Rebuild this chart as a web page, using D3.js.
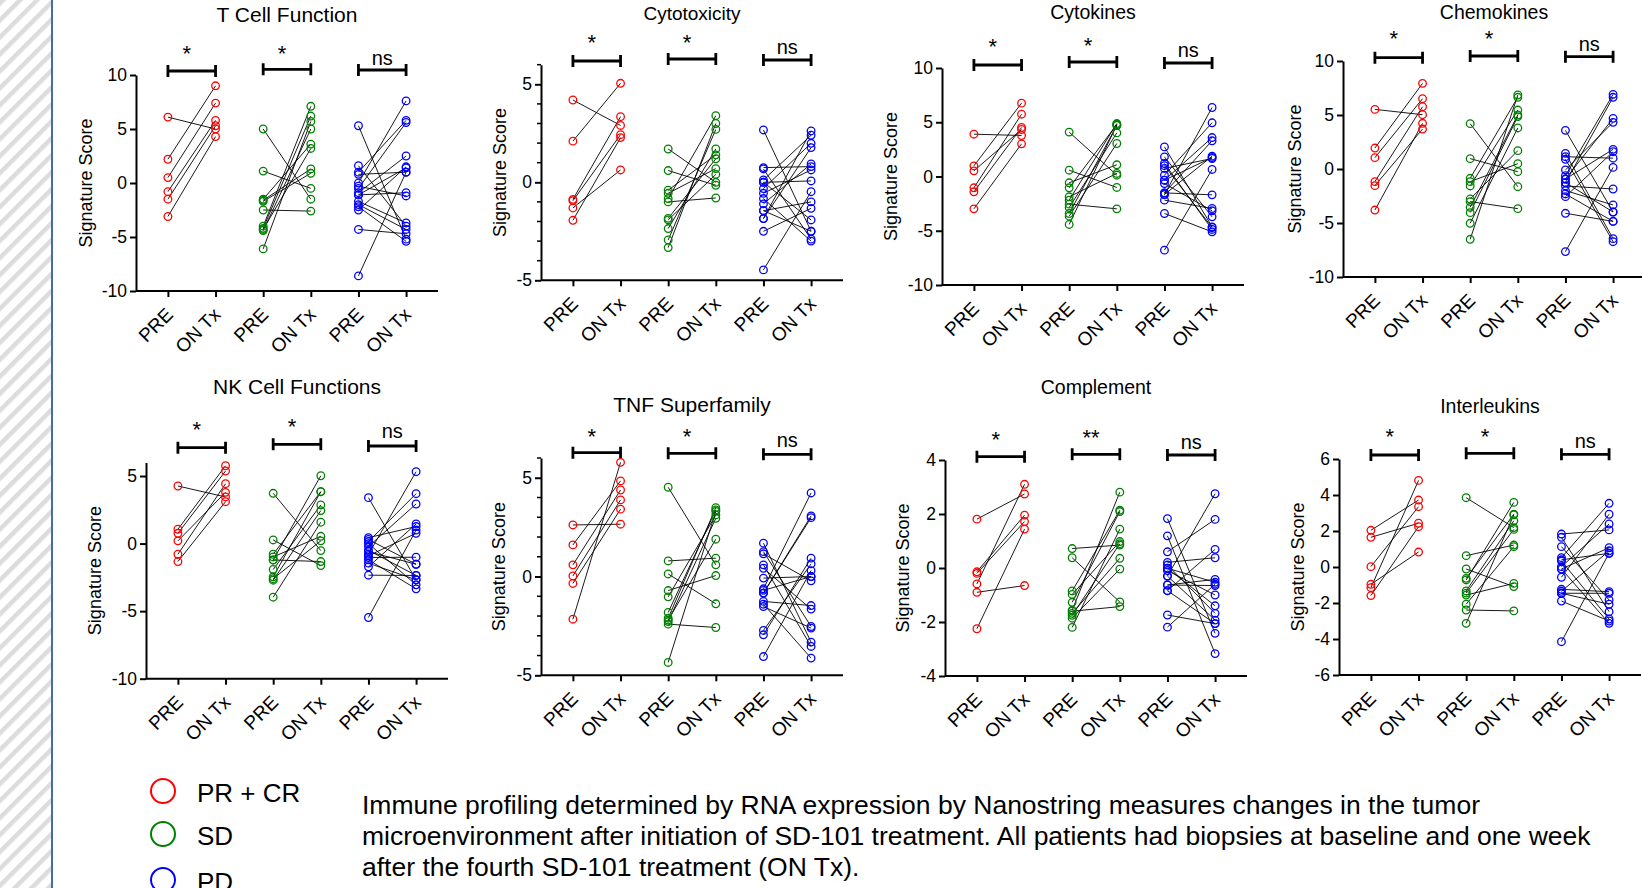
<!DOCTYPE html>
<html>
<head>
<meta charset="utf-8">
<script src="https://cdn.jsdelivr.net/npm/d3@7"></script>
<style>
  body { margin: 0; background: #fff; }
  svg { display: block; font-family: "Liberation Sans", Arial, sans-serif; }
</style>
</head>
<body>
<svg id="chart" width="1642" height="888"></svg>
<script>
// labels
const timepoints = ["PRE", "ON Tx"];
const groups = ["PR + CR", "SD", "PD"];
const groupColors = ["#ff0000", "#008000", "#0000ff"];
const panelTitles = ["T Cell Function", "Cytotoxicity", "Cytokines", "Chemokines",
    "NK Cell Functions", "TNF Superfamily", "Complement", "Interleukins"];
const sigLabels = [
    ["*", "*", "ns"], ["*", "*", "ns"], ["*", "*", "ns"], ["*", "*", "ns"],
    ["*", "*", "ns"], ["*", "*", "ns"], ["*", "**", "ns"], ["*", "*", "ns"]
];
const captionLines = [
    "Immune profiling determined by RNA expression by Nanostring measures changes in the tumor",
    "microenvironment after initiation of SD-101 treatment. All patients had biopsies at baseline and one week",
    "after the fourth SD-101 treatment (ON Tx)."
];

// signature scores, one pair per patient: [PRE, ON Tx]
const tCellPR = [[6.1, 5.0], [2.2, 9.0], [0.5, 7.4], [-0.8, 5.8], [-1.5, 5.3], [-3.1, 4.3]];
const tCellSD = [[5.0, -1.5], [1.1, -0.5], [-1.5, 3.6], [-1.6, 1.3], [-1.7, 0.9], [-2.5, -2.6],
    [-4.0, 7.1], [-4.2, 6.2], [-4.4, 5.0], [-4.3, 3.2], [-6.1, 5.7]];
const tCellPD = [[5.3, -5.2], [1.6, -4.0], [1.0, 5.8], [0.8, 1.0], [0.0, 7.6], [-0.3, -1.2],
    [-0.5, 5.6], [-0.9, 2.5], [-1.1, -0.9], [-1.1, 1.4], [-1.7, -3.7], [-2.0, -4.3],
    [-2.2, -5.4], [-2.5, 1.5], [-4.3, -4.7], [-8.6, 1.0]];

const cytotoxPR = [[4.2, 2.9], [2.1, 5.05], [-0.87, 3.35], [-0.94, 2.43], [-1.31, 0.63], [-1.94, 2.28]];
const cytotoxSD = [[1.7, 0.0], [0.6, -0.15], [-0.4, 1.4], [-0.56, 0.7], [-0.83, 3.4], [-1.0, -0.8],
    [-1.84, 1.2], [-1.92, 0.4], [-2.36, 1.7], [-2.94, 2.7], [-3.33, 3.0]];
const cytotoxPD = [[2.67, -2.5], [0.75, 0.8], [0.68, -2.9], [0.12, 2.4], [0.0, 0.07], [0.0, -1.92],
    [-0.32, 1.99], [-0.56, 0.63], [-0.83, -3.0], [-1.1, 0.94], [-1.45, -1.0], [-1.45, -2.5],
    [-1.85, 1.77], [-1.85, 2.62], [-2.5, -1.33], [-4.47, -0.48]];

const cytokinesPR = [[3.9, 3.78], [0.98, 6.76], [0.52, 4.33], [-1.04, 5.74], [-1.41, 4.52], [-2.98, 3.01]];
const cytokinesSD = [[4.09, 0.12], [0.58, -1.01], [-0.58, 1.08], [-1.04, 4.8], [-1.87, 0.28], [-2.18, 4.88],
    [-2.55, -2.98], [-2.86, 4.02], [-3.41, 4.7], [-3.66, 3.04], [-4.42, 4.75]];
const cytokinesPD = [[2.73, -4.64], [1.81, -3.72], [1.2, -4.88], [0.74, 1.66], [0.12, 4.95], [-0.34, 3.59],
    [-0.65, -3.16], [-1.51, -1.69], [-1.66, 6.36], [-1.66, 1.87], [-1.51, 3.29], [-2.18, -2.95],
    [-3.41, -5.1], [-6.79, 0.65], [-0.34, 1.75], [1.0, -4.7]];

const chemokinesPR = [[5.52, 5.03], [1.94, 7.93], [1.05, 6.51], [-1.17, 5.77], [-1.54, 3.7], [-3.8, 4.23]];
const chemokinesSD = [[4.2, -1.64], [0.96, -0.25], [-0.86, 6.64], [-1.17, 0.49], [-1.57, 5.46], [-2.78, 1.7],
    [-3.02, -3.67], [-3.55, 5.0], [-4.04, 4.85], [-5.03, 3.8], [-6.51, 6.85]];
const chemokinesPD = [[3.58, -3.98], [1.45, -6.45], [1.14, 1.0], [0.9, -6.73], [-0.09, 4.32], [-0.62, 6.91],
    [-0.93, 1.82], [-0.93, 4.69], [-1.27, 6.64], [-1.57, -1.85], [-2.0, -3.33], [-2.31, -4.85],
    [-2.56, 1.6], [-4.1, -4.85], [-7.65, 0.15], [-1.27, -3.98]];

const nkPR = [[4.26, 3.45], [1.06, 5.76], [0.76, 5.37], [0.2, 3.79], [-0.79, 4.43], [-1.33, 3.1]];
const nkSD = [[3.72, -0.52], [0.27, -1.63], [-0.79, 3.84], [-0.99, 0.54], [-1.21, -1.33], [-1.21, 5.02],
    [-1.92, 2.86], [-2.46, 3.84], [-2.71, 2.44], [-3.97, 1.58], [-2.6, 0.2]];
const nkPD = [[3.4, -2.68], [0.44, 1.26], [0.3, -1.53], [0.15, 3.69], [0.0, -3.05], [-0.22, 2.93],
    [-0.5, -2.36], [-0.79, 5.32], [-0.9, 0.76], [-1.03, -1.01], [-1.2, -3.35], [-1.45, -2.68],
    [-1.72, 1.45], [-2.34, -2.36], [-5.47, 1.0], [-0.6, -1.53]];

const tnfPR = [[2.61, 2.65], [1.6, 4.84], [0.59, 4.38], [0.03, 3.88], [-0.35, 3.41], [-2.16, 5.78]];
const tnfSD = [[4.52, 0.59], [0.79, 0.93], [0.13, -1.38], [-0.71, 0.05], [-1.03, 3.12], [-1.82, 3.37],
    [-2.11, 3.49], [-2.28, 2.95], [-2.41, -2.58], [-4.35, 3.3], [-2.2, 1.89]];
const tnfPD = [[1.69, -3.32], [1.26, -2.53], [1.15, -0.22], [0.59, -3.54], [0.42, -1.65], [-0.08, 0.0],
    [-0.62, 4.23], [-0.84, 3.07], [-0.84, 2.98], [-1.26, -1.47], [-1.52, -2.61], [-1.4, -4.13],
    [-2.73, 0.64], [-2.95, 0.93], [-4.05, 0.3], [-0.7, 0.0]];

const complementPR = [[1.81, 2.74], [-0.14, 1.96], [-0.2, 1.72], [-0.59, 3.1], [-0.9, -0.65], [-2.25, 1.44]];
const complementSD = [[0.72, 0.85], [0.38, -1.26], [-0.85, 2.14], [-0.98, 0.98], [-1.27, 2.09], [-1.56, 2.81],
    [-1.6, -1.43], [-1.68, 0.36], [-1.86, -0.04], [-2.2, 1.44], [-1.75, 0.9]];
const complementPD = [[1.83, -2.42], [1.19, -3.17], [0.6, 1.8], [0.21, 0.38], [0.11, -1.68], [-0.01, -0.53],
    [-0.01, -1.4], [-0.3, 2.75], [-0.3, -1.93], [-0.63, -0.42], [-0.63, -0.65], [-0.84, 0.69],
    [-0.84, -2.06], [-1.74, -2.06], [-2.19, -0.6], [-0.1, -1.0]];

const interleukinsPR = [[2.04, 3.72], [1.65, 2.43], [0.02, 3.35], [-0.96, 0.83], [-1.15, 4.81], [-1.59, 2.24]];
const interleukinsSD = [[3.85, 2.19], [0.63, 1.22], [-0.11, -1.09], [-0.63, 2.93], [-0.72, 3.59], [-1.33, 2.57],
    [-1.45, 2.09], [-1.56, -0.91], [-2.07, 1.13], [-2.39, -2.44], [-3.13, 2.9]];
const interleukinsPD = [[1.83, 2.06], [1.65, -2.48], [1.13, -1.83], [0.52, 3.54], [0.33, -2.89], [0.4, 0.76],
    [0.02, 2.39], [-0.11, 1.07], [-0.11, -3.13], [-0.57, 2.93], [-1.24, -1.37], [-1.46, -1.46],
    [-1.46, -2.07], [-1.89, -3.0], [-4.15, 0.76], [-1.35, 0.9]];

// axis ranges and tick values per panel
const yDomains = [[-10, 10], [-5, 6], [-10, 10], [-10, 10], [-10, 6], [-5, 6], [-4, 4], [-6, 6]];
const yTickValues = [[-10, -5, 0, 5, 10], [-5, 0, 5], [-10, -5, 0, 5, 10], [-10, -5, 0, 5, 10],
    [-10, -5, 0, 5], [-5, 0, 5], [-4, -2, 0, 2, 4], [-6, -4, -2, 0, 2, 4, 6]];

const panelData = [
    [tCellPR, tCellSD, tCellPD], [cytotoxPR, cytotoxSD, cytotoxPD],
    [cytokinesPR, cytokinesSD, cytokinesPD], [chemokinesPR, chemokinesSD, chemokinesPD],
    [nkPR, nkSD, nkPD], [tnfPR, tnfSD, tnfPD],
    [complementPR, complementSD, complementPD], [interleukinsPR, interleukinsSD, interleukinsPD]
];

// layout (pixels) of each panel
const layout = [
    {x0: 136, yTop: 75, yBot: 291, titleY: 15, titleSize: 21, bars: [71, 69.3, 70], marks: [50, 50, 60], labelOff: 50, minor: false},
    {x0: 541, yTop: 64.7, yBot: 280.3, titleY: 13.3, titleSize: 19, bars: [61, 59, 60], marks: [39, 39, 49], labelOff: 41, minor: true},
    {x0: 942, yTop: 68, yBot: 285, titleY: 12.3, titleSize: 19.5, bars: [65, 62, 63], marks: [43, 42, 52], labelOff: 51, minor: false},
    {x0: 1343, yTop: 61, yBot: 277, titleY: 12.3, titleSize: 19.5, bars: [57.7, 56, 56.7], marks: [35, 35, 46], labelOff: 48, minor: false},
    {x0: 146, yTop: 462.5, yBot: 678.7, titleY: 386.7, titleSize: 21, bars: [447.7, 444.3, 446], marks: [425.7, 423.3, 433.3], labelOff: 51, minor: false},
    {x0: 541, yTop: 458, yBot: 675.3, titleY: 404.3, titleSize: 21, bars: [452.7, 453.3, 454.3], marks: [433.3, 432.7, 442.3], labelOff: 42, minor: true},
    {x0: 945, yTop: 460, yBot: 676, titleY: 386.7, titleSize: 19.5, bars: [456.7, 454.3, 455], marks: [435.7, 434, 444.3], labelOff: 42, minor: false},
    {x0: 1339, yTop: 459, yBot: 675, titleY: 405.7, titleSize: 19.5, bars: [455, 453.3, 454.3], marks: [433.3, 432.7, 443.3], labelOff: 41, minor: false}
];
const panelWidth = 302;

const svg = d3.select("#chart");

// hatched strip on the left
let defs = svg.append("defs");
let pat = defs.append("pattern")
    .attr("id", "hatch")
    .attr("patternUnits", "userSpaceOnUse")
    .attr("width", 12)
    .attr("height", 12)
    .attr("patternTransform", "rotate(45)");
pat.append("rect").attr("width", 12).attr("height", 12).attr("fill", "#fff");
pat.append("rect").attr("width", 4.5).attr("height", 12).attr("fill", "#dcdcdc");

svg.append("rect")
    .attr("x", 0).attr("y", 0)
    .attr("width", 51).attr("height", 888)
    .attr("fill", "url(#hatch)");
svg.append("line")
    .attr("x1", 52).attr("x2", 52)
    .attr("y1", 0).attr("y2", 888)
    .attr("stroke", "#4a69a8")
    .attr("stroke-width", 2);

function drawPanel(p) {
    let lay = layout[p];
    let g = svg.append("g").attr("class", "panel");

    let keys = [];
    groups.forEach((gr, gi) => timepoints.forEach(t => keys.push(gi + "|" + t)));

    let x = d3.scalePoint()
        .domain(keys)
        .range([lay.x0, lay.x0 + panelWidth])
        .padding(0.67);
    let y = d3.scaleLinear()
        .domain(yDomains[p])
        .range([lay.yBot, lay.yTop]);

    // minor ticks
    if (lay.minor) {
        let minorVals = d3.range(yDomains[p][0], yDomains[p][1] + 1).filter(v => yTickValues[p].indexOf(v) < 0);
        g.selectAll("line.minor")
            .data(minorVals)
            .enter().append("line")
            .attr("class", "minor")
            .attr("x1", lay.x0 - 4).attr("x2", lay.x0)
            .attr("y1", d => y(d)).attr("y2", d => y(d))
            .attr("stroke", "#000")
            .attr("stroke-width", 1.5);
    }

    // y axis
    let yAxis = g.append("g")
        .attr("transform", `translate(${lay.x0},0)`)
        .call(d3.axisLeft(y).tickValues(yTickValues[p]).tickFormat(d => String(d))
            .tickSize(6).tickSizeOuter(0).tickPadding(3));
    yAxis.select(".domain").attr("stroke-width", 2);
    yAxis.selectAll(".tick line").attr("stroke-width", 2);
    yAxis.selectAll(".tick text")
        .attr("font-size", 17.5)
        .attr("font-family", "Liberation Sans, Arial, sans-serif")
        .attr("fill", "#000");

    // x axis
    let xAxis = g.append("g")
        .attr("transform", `translate(0,${lay.yBot})`)
        .call(d3.axisBottom(x).tickSize(6).tickSizeOuter(0).tickFormat(d => d.split("|")[1]));
    xAxis.select(".domain").attr("stroke-width", 2)
        .attr("d", `M${lay.x0},0H${lay.x0 + panelWidth}`);
    xAxis.selectAll(".tick line").attr("stroke-width", 2);
    xAxis.selectAll(".tick text")
        .attr("font-size", 19)
        .attr("font-family", "Liberation Sans, Arial, sans-serif")
        .attr("fill", "#000")
        .attr("text-anchor", "end")
        .attr("y", 0)
        .attr("dy", "0.35em")
        .attr("transform", "translate(1,20) rotate(-45)");

    // y label
    g.append("text")
        .attr("transform", `translate(${lay.x0 - lay.labelOff},${(lay.yTop + lay.yBot) / 2}) rotate(-90)`)
        .attr("text-anchor", "middle")
        .attr("dy", "0.35em")
        .attr("font-size", 18)
        .text("Signature Score");

    // title
    g.append("text")
        .attr("x", lay.x0 + panelWidth / 2)
        .attr("y", lay.titleY)
        .attr("dy", "0.35em")
        .attr("text-anchor", "middle")
        .attr("font-size", lay.titleSize)
        .text(panelTitles[p]);

    panelData[p].forEach((pairs, gi) => {
        let xPre = x(gi + "|" + timepoints[0]);
        let xOn = x(gi + "|" + timepoints[1]);

        // significance bracket
        let barY = lay.bars[gi];
        g.append("path")
            .attr("d", `M${xPre},${barY - 6}V${barY + 6}M${xPre},${barY}H${xOn}M${xOn},${barY - 6}V${barY + 6}`)
            .attr("stroke", "#000")
            .attr("stroke-width", 2.8)
            .attr("fill", "none");
        let lab = sigLabels[p][gi];
        g.append("text")
            .attr("x", (xPre + xOn) / 2 + (lab === "ns" ? 0 : -5))
            .attr("y", lay.marks[gi] + (lab === "ns" ? 5 : 11))
            .attr("text-anchor", "middle")
            .attr("font-size", lab === "ns" ? 20 : 22)
            .text(lab);

        // paired lines
        g.selectAll(null)
            .data(pairs)
            .enter().append("line")
            .attr("x1", xPre).attr("x2", xOn)
            .attr("y1", d => y(d[0]))
            .attr("y2", d => y(d[1]))
            .attr("stroke", "#000")
            .attr("stroke-width", 0.9);

        // points
        let pts = [];
        pairs.forEach(d => {
            pts.push({cx: xPre, v: d[0]});
            pts.push({cx: xOn, v: d[1]});
        });
        g.selectAll(null)
            .data(pts)
            .enter().append("circle")
            .attr("cx", d => d.cx)
            .attr("cy", d => y(d.v))
            .attr("r", 3.8)
            .attr("fill", "none")
            .attr("stroke", groupColors[gi])
            .attr("stroke-width", 1.3);
    });
}

for (let p = 0; p < 8; p++) {
    drawPanel(p);
}

// legend
let legend = svg.append("g").attr("class", "legend");
let legItem = legend.selectAll("g")
    .data(groups)
    .enter().append("g")
    .attr("transform", (d, i) => `translate(163,${[791, 834, 880][i]})`);
legItem.append("circle")
    .attr("r", 12)
    .attr("fill", "none")
    .attr("stroke", (d, i) => groupColors[i])
    .attr("stroke-width", 2);
legItem.append("text")
    .attr("x", 34)
    .attr("y", 11)
    .attr("font-size", 26)
    .text(d => d);

// caption
svg.append("g")
    .selectAll("text")
    .data(captionLines)
    .enter().append("text")
    .attr("x", 362)
    .attr("y", (d, i) => 814 + i * 31)
    .attr("font-size", 26.5)
    .text(d => d);
</script>
</body>
</html>
